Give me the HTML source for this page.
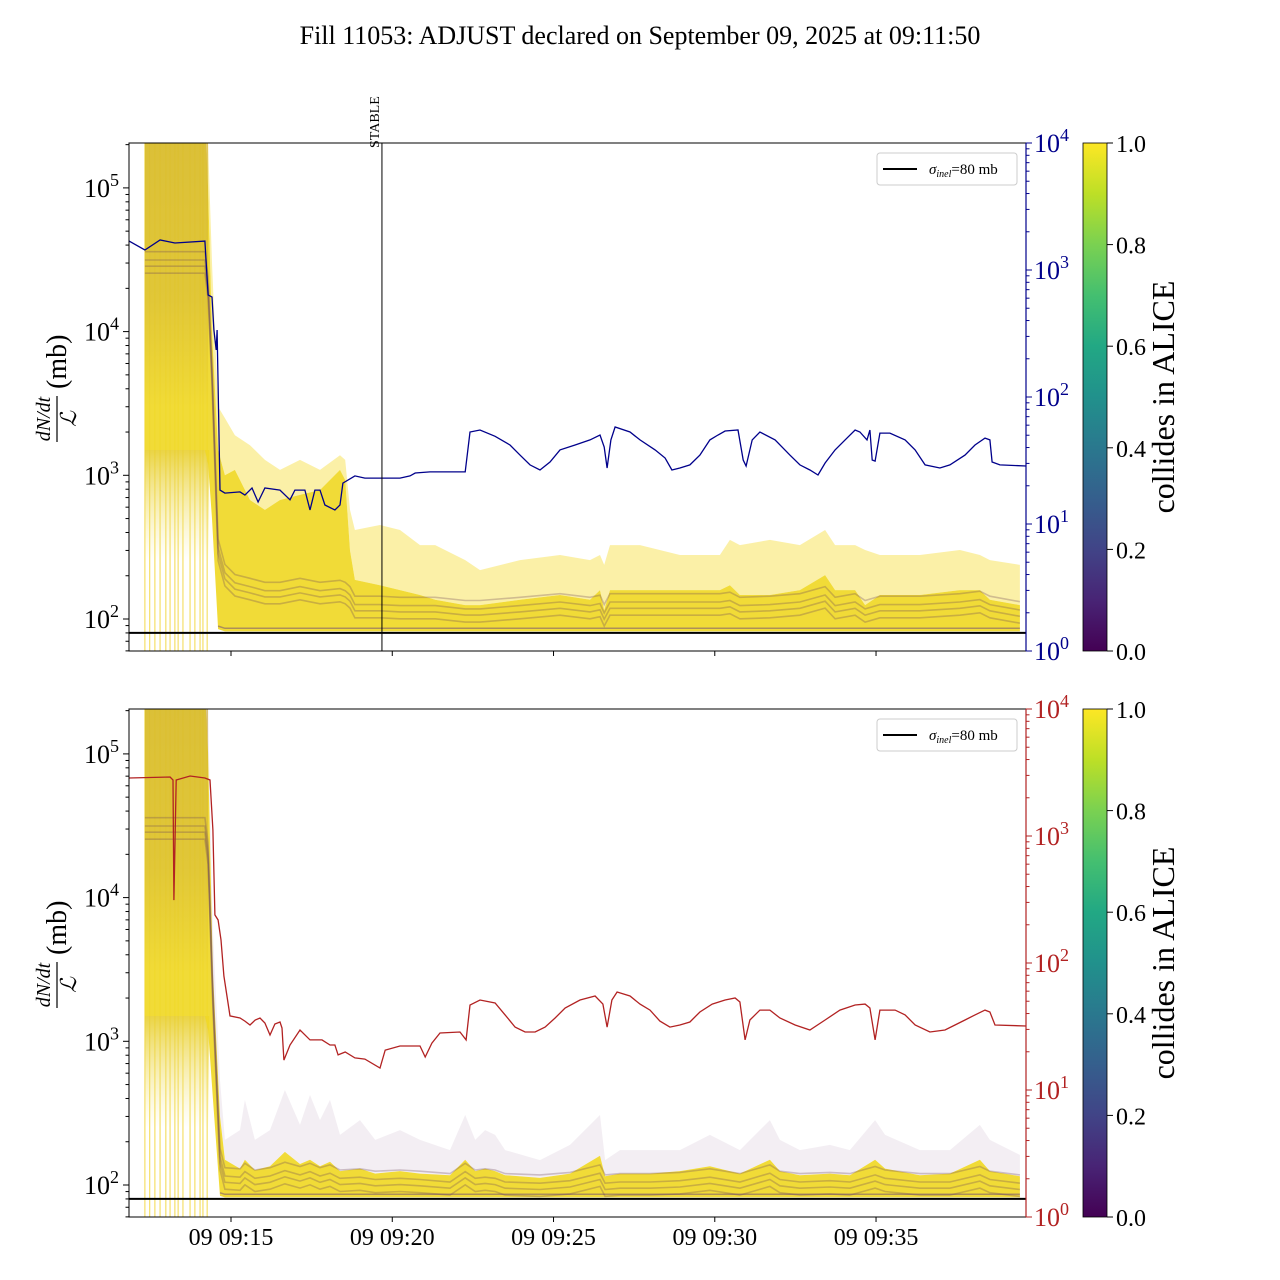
<!DOCTYPE html>
<html><head><meta charset="utf-8">
<style>
html,body{margin:0;padding:0;background:#fff;}
svg{display:block;font-family:"Liberation Serif","DejaVu Serif",serif;}
</style></head>
<body>
<svg id="chart" width="1280" height="1280" viewBox="0 0 1280 1280" xmlns="http://www.w3.org/2000/svg">
<defs>
<linearGradient id="viridis" x1="0" y1="1" x2="0" y2="0">
<stop offset="0" stop-color="#440154"/><stop offset="0.1" stop-color="#482475"/><stop offset="0.2" stop-color="#414487"/><stop offset="0.3" stop-color="#355f8d"/><stop offset="0.4" stop-color="#2a788e"/><stop offset="0.5" stop-color="#21918c"/><stop offset="0.6" stop-color="#22a884"/><stop offset="0.7" stop-color="#44bf70"/><stop offset="0.8" stop-color="#7ad151"/><stop offset="0.9" stop-color="#bddf26"/><stop offset="1" stop-color="#fde725"/>
</linearGradient>
<linearGradient id="burstFade" x1="0" y1="0" x2="0" y2="1">
<stop offset="0" stop-color="#e8cf30" stop-opacity="0.9"/><stop offset="1" stop-color="#f5e680" stop-opacity="0"/>
</linearGradient>
<linearGradient id="burstDark" x1="0" y1="0" x2="0" y2="1">
<stop offset="0" stop-color="#a8803a" stop-opacity="0.3"/><stop offset="0.6" stop-color="#a8803a" stop-opacity="0.22"/><stop offset="1" stop-color="#a8803a" stop-opacity="0"/>
</linearGradient>
<clipPath id="clipTop"><rect x="129" y="143" width="897" height="508"/></clipPath>
<clipPath id="clipBot"><rect x="129" y="709" width="897" height="508"/></clipPath>
</defs>
<text x="640" y="44" text-anchor="middle" font-size="26">Fill 11053: ADJUST declared on September 09, 2025 at 09:11:50</text>
</svg>
<script>
// ---- data ----
const xTickLabels = ["09 09:15","09 09:20","09 09:25","09 09:30","09 09:35"];
const xTickMinutes = [15,20,25,30,35];
const tStart = 11.837, tEnd = 39.65;
const stableMinute = 19.68;
const sigmaInel = 80;
const burstTimes = [12.33,12.48,12.64,12.80,12.98,13.11,13.26,13.36,13.51,13.73,13.88,14.04,14.13,14.26];
const burstFadeTop = 1500;
const burstFadeBottom = 250;

const topBandT = [12.33,14.19,14.29,14.41,14.60,14.81,15.12,15.59,16.05,16.52,17.14,17.76,18.38,18.54,18.69,18.84,19.62,20.24,20.86,21.33,22.26,22.72,23.96,25.20,26.13,26.44,26.57,26.75,27.68,28.92,30.16,30.47,30.78,31.71,32.64,33.42,33.73,34.35,34.66,35.12,36.36,37.60,38.22,38.53,39.46];
const topBandUp = [3e5,3e5,2e5,3e4,3000,2500,1900,1620,1280,1090,1280,1090,1380,1280,574,416,451,416,327,327,257,219,257,279,257,279,238,327,327,279,279,355,327,355,327,416,327,327,302,279,279,302,279,257,238];
const topBandHi = [3e5,3e5,1e5,1e4,1500,1000,1090,673,574,673,730,790,1090,927,300,187,172,159,147,136,125,125,136,147,136,159,115,159,159,159,159,172,147,147,159,202,159,159,125,147,147,159,159,136,125];
const topBandMed = [3e4,3e4,2e4,5000,300,200,170,160,150,150,160,150,155,150,140,120,120,118,118,118,112,112,118,125,118,122,105,125,125,125,125,128,118,120,125,140,118,125,112,120,120,125,130,120,110];
const topBandLo = [1500,1500,1200,500,85,82,82,82,82,82,82,82,82,82,82,82,82,82,82,82,82,82,82,82,82,82,82,82,82,82,82,82,82,82,82,82,82,82,82,82,82,82,82,82,82];

const botBandT = [12.33,14.19,14.29,14.44,14.66,14.81,15.28,15.43,15.74,16.21,16.67,17.14,17.45,17.76,18.07,18.38,19.00,19.47,20.24,20.86,21.79,22.26,22.57,22.88,23.19,23.50,24.58,25.51,26.44,26.60,27.06,27.99,28.92,29.85,30.78,31.71,32.02,32.64,33.57,34.19,34.97,35.28,36.36,37.29,38.22,38.53,39.46];
const botBandUp = [3e5,3e5,2e5,5960,537,206,241,391,206,241,458,262,423,283,391,223,283,206,241,206,175,307,206,241,223,175,149,190,307,149,175,175,175,223,175,283,206,175,190,175,283,223,175,175,262,206,162];
const botBandHi = [3e5,3e5,1e5,3000,300,150,130,150,127,135,170,140,150,135,145,125,130,120,125,120,117,150,125,130,125,117,112,120,160,115,120,120,125,135,120,150,125,117,120,117,150,130,117,120,150,125,115];
const botBandMed = [3e4,3e4,2e4,2000,150,110,108,118,106,110,120,112,118,110,115,106,108,104,106,104,100,118,106,108,106,100,98,102,115,98,100,100,102,108,100,115,104,100,102,100,112,106,100,100,112,104,98];
const botBandLo = [1500,1500,1200,400,84,82,82,82,82,82,82,82,82,82,82,82,82,82,82,82,82,82,82,82,82,82,82,82,82,82,82,82,82,82,82,82,82,82,82,82,82,82,82,82,82,82,82];

const blueT = [11.84,12.33,12.80,13.26,14.19,14.29,14.41,14.47,14.54,14.57,14.66,14.81,15.28,15.43,15.65,15.84,16.05,16.52,16.83,16.98,17.29,17.45,17.60,17.76,17.91,18.22,18.38,18.47,18.84,19.15,19.68,20.24,20.55,20.71,21.17,22.26,22.41,22.72,23.19,23.65,23.96,24.27,24.58,24.89,25.20,25.67,26.13,26.44,26.57,26.66,26.78,26.91,27.37,27.68,28.15,28.46,28.67,28.92,29.23,29.54,29.85,30.10,30.32,30.72,30.88,30.97,31.16,31.40,31.87,32.33,32.64,32.95,33.20,33.42,33.73,34.04,34.35,34.50,34.72,34.81,34.88,34.97,35.12,35.43,35.90,36.21,36.52,36.98,37.29,37.76,38.07,38.38,38.53,38.60,38.84,39.65];
const blueV = [1690,1437,1723,1632,1690,636,613,337,235,337,18.5,17.5,17.9,16.9,19.2,14.9,19.2,18.5,15.5,18.5,18.5,12.9,18.5,18.5,14.1,12.9,14.1,21.0,23.9,23.0,23.0,23.0,23.9,25.2,25.7,25.7,53,55,49,41.9,34.9,29.2,26.6,30.8,38.3,41.9,45.9,50.2,40.4,27.6,45.9,58,53,45.9,38.3,33.1,26.6,27.6,29.2,34.9,45.9,50.2,54,55,31.9,28.6,45.9,53,45.9,34.9,29.2,26.6,24.3,30.2,38.3,45.9,55,53,45.9,55,31.9,31.3,52,52,45.9,38.3,29.2,27.6,29.2,34.9,41.9,47.5,45.9,30.8,29.2,28.6];

const redT = [11.84,13.11,13.20,13.23,13.30,13.73,14.19,14.35,14.44,14.50,14.60,14.69,14.78,14.97,15.28,15.43,15.59,15.75,15.90,16.05,16.21,16.36,16.52,16.58,16.64,16.83,17.14,17.45,17.60,17.82,18.07,18.22,18.32,18.54,18.84,19.15,19.62,19.78,20.24,20.86,21.02,21.23,21.48,22.10,22.29,22.41,22.72,23.19,23.50,23.81,24.12,24.43,24.74,25.05,25.36,25.82,26.29,26.53,26.66,26.81,26.97,27.37,27.68,27.99,28.30,28.61,28.92,29.23,29.54,29.92,30.32,30.63,30.78,30.94,31.09,31.40,31.71,32.02,32.49,32.95,33.42,33.88,34.35,34.66,34.81,34.97,35.12,35.59,35.90,36.21,36.67,37.14,37.45,37.76,38.07,38.38,38.53,38.69,39.65];
const redV = [2864,2917,2760,313,2760,2967,2864,2760,1115,239,218,152,79,38.3,36.9,34.9,32.5,35.6,36.9,33.7,27.1,33.1,34.3,30.8,17.2,22.6,29.7,24.8,24.8,24.8,22.6,22.6,18.9,19.9,17.9,17.5,14.9,20.6,22.2,22.2,18.2,23.4,28.1,28.6,24.8,46.7,51.1,48.4,39.0,31.3,28.6,28.6,31.3,36.9,44.2,51.1,55.0,47.5,31.3,51.1,59.1,55.0,47.5,42.6,34.9,31.3,32.5,34.3,41.1,47.5,51.1,53.0,49.3,24.8,35.6,42.6,42.6,36.9,32.5,29.7,35.6,42.6,46.7,47.5,44.2,24.8,42.6,42.6,39.0,32.5,28.6,29.7,32.5,35.6,39.0,42.6,41.1,32.5,31.9];

// ---- scales ----
const NS = "http://www.w3.org/2000/svg";
const svg = document.getElementById("chart");
const X0 = 129, X1 = 1026;
function xScale(t){ return X0 + (t - tStart) * (X1 - X0) / (tEnd - tStart); }
function makeLeft(top){ const y100 = top + 476; return v => y100 - (Math.log10(v) - 2) * 143.7; }
function makeRight(top){ const bot = top + 508; return v => bot - Math.log10(v) * 127; }
function mk(tag, attrs, parent){ const e = document.createElementNS(NS, tag); for (const k in attrs) e.setAttribute(k, attrs[k]); (parent || svg).appendChild(e); return e; }
function pts(T, V, ys){ return T.map((t,i)=> xScale(t).toFixed(1)+","+ys(V[i]).toFixed(1)); }

function drawPanel(cfg){
  const top = cfg.top, bot = top + 508;
  const yl = makeLeft(top), yr = makeRight(top);
  const g = mk("g", {"clip-path": "url(#" + cfg.clip + ")"});
  
  
  burstTimes.forEach(t => {
    const l = mk("line", {x1: xScale(t), x2: xScale(t), y1: top, y2: bot, stroke: "#f0d020", "stroke-width": 1, opacity: 0.8}, g);
    
    
  });
  const bx0 = xScale(burstTimes[0]), bx1 = xScale(burstTimes[burstTimes.length-1]) + 2;
  const fade = mk("rect", {x: bx0, y: yl(burstFadeTop), width: bx1 - bx0, height: yl(burstFadeBottom) - yl(burstFadeTop), fill: "url(#burstFade)"}, g);
  
  
  const up = pts(cfg.bT, cfg.bUp, yl), hi = pts(cfg.bT, cfg.bHi, yl), lo = pts(cfg.bT, cfg.bLo, yl);
  const light = mk("polygon", {points: up.concat(hi.slice().reverse()).join(" "), fill: cfg.lightFill}, g);
  
  
  const dense = mk("polygon", {points: hi.concat(lo.slice().reverse()).join(" "), fill: "#f0d826", opacity: 0.92}, g);
  
  
  const bTop = yl(cfg.bUp[0]), bBot = yl(cfg.bMed[0]*0.1);
  const bd = mk("rect", {x: xScale(cfg.bT[0]), y: top, width: xScale(cfg.bT[2]) - xScale(cfg.bT[0]), height: bBot - top, fill: "url(#burstDark)"}, g);
  
  
  [0.85, 0.95, 1.05, 1.2].forEach(f => {
    const pl = mk("polyline", {points: cfg.bT.map((t,i)=> xScale(t).toFixed(1)+","+yl(cfg.bMed[i]*f).toFixed(1)).join(" "), fill: "none", stroke: "rgba(110,70,90,0.3)", "stroke-width": 1.6}, g);
    
    
  });
  const floor = mk("polyline", {points: cfg.bT.slice(4).map((t,i)=> xScale(t).toFixed(1)+","+yl(cfg.bLo[i+4]*1.05).toFixed(1)).join(" "), fill: "none", stroke: "rgba(90,50,130,0.45)", "stroke-width": 1.5}, g);
  
  
  const sl = mk("line", {x1: X0, x2: X1, y1: yl(sigmaInel), y2: yl(sigmaInel), stroke: "#000", "stroke-width": 2}, g);
  
  
  const ll = mk("polyline", {points: pts(cfg.lT, cfg.lV, yr).join(" "), fill: "none", stroke: cfg.lineColor, "stroke-width": 1.3}, g);
  
  
  if (cfg.stable){
    const st = mk("line", {x1: xScale(stableMinute), x2: xScale(stableMinute), y1: top, y2: bot, stroke: "#000", "stroke-width": 1});
    
    
    const sx = xScale(stableMinute) - 7;
    const stt = mk("text", {x: 0, y: 0, "font-size": 14, transform: "translate(" + (sx+4) + "," + (top+5) + ") rotate(-90)"});
    stt.textContent = "STABLE";
    
    
  }
  const fr = mk("rect", {x: X0, y: top, width: X1 - X0, height: 508, fill: "none", stroke: "#000", "stroke-width": 1});
  
  
  xTickMinutes.forEach((m, i) => {
    const tk = mk("line", {x1: xScale(m), x2: xScale(m), y1: bot, y2: bot + 5, stroke: "#000"});
    
    
    if (cfg.xlabels){
      const tl = mk("text", {x: xScale(m), y: bot + 28, "text-anchor": "middle", "font-size": 24});
      tl.textContent = xTickLabels[i];
      
      
    }
  });
  for (let d = 1; d <= 5; d++){
    for (let k = 1; k <= 9; k++){
      const v = k * Math.pow(10, d), y = yl(v);
      if (y < top - 0.5 || y > bot + 0.5) continue;
      const tk = mk("line", {x1: X0, x2: X0 - (k === 1 ? 6 : 3.5), y1: y, y2: y, stroke: "#000"});
      
      
      if (k === 1){
        const t = mk("text", {x: X0 - 10, y: y + 9, "text-anchor": "end", "font-size": 26});
        t.innerHTML = '10<tspan dy="-11" font-size="18">' + d + '</tspan>';
        
        
      }
    }
  }
  for (let d = 0; d <= 4; d++){
    for (let k = 1; k <= 9; k++){
      const v = k * Math.pow(10, d), y = yr(v);
      if (y < top - 0.5 || y > bot + 0.5) continue;
      const tk = mk("line", {x1: X1, x2: X1 + (k === 1 ? 6 : 3.5), y1: y, y2: y, stroke: cfg.lineColor});
      
      
      if (k === 1){
        const t = mk("text", {x: X1 + 8, y: y + 9, "font-size": 26, fill: cfg.lineColor});
        t.innerHTML = '10<tspan dy="-11" font-size="18">' + d + '</tspan>';
        
        
      }
    }
  }
  const ra = mk("line", {x1: X1, x2: X1, y1: top, y2: bot, stroke: cfg.lineColor, "stroke-width": 1.2});
  
  
  const yg = mk("g", {transform: "translate(58," + (top + 254) + ") rotate(-90)"});
  
  
  const num = mk("text", {x: -22, y: -8, "text-anchor": "middle", "font-size": 20, "font-style": "italic"}, yg);
  num.textContent = "dN/dt";
  const bar = mk("line", {x1: -45, x2: 1, y1: -1, y2: -1, stroke: "#000", "stroke-width": 1.2}, yg);
  
  
  const den = mk("text", {x: -22, y: 18, "text-anchor": "middle", "font-size": 22, "font-style": "italic"}, yg);
  den.textContent = "ℒ";
  const mb = mk("text", {x: 8, y: 8, "font-size": 28}, yg);
  mb.textContent = "(mb)";
  const lg = mk("g", {});
  
  
  mk("rect", {x: 877, y: top + 10, width: 140, height: 32, rx: 3, fill: "#fff", stroke: "#ccc"}, lg);
  const le = mk("line", {x1: 883, x2: 917, y1: top + 26, y2: top + 26, stroke: "#000", "stroke-width": 2}, lg);
  
  
  const lt = mk("text", {x: 929, y: top + 31, "font-size": 15}, lg);
  lt.innerHTML = '<tspan font-style="italic">σ</tspan><tspan font-size="10" dy="3" font-style="italic">inel</tspan><tspan dy="-3">=80 mb</tspan>';
  
  
  const cb = mk("rect", {x: 1083, y: top, width: 24, height: 508, fill: "url(#viridis)", stroke: "#000", "stroke-width": 0.8});
  
  
  ["0.0","0.2","0.4","0.6","0.8","1.0"].forEach((s, i) => {
    const y = bot - i * 508 / 5;
    const tk = mk("line", {x1: 1107, x2: 1113, y1: y, y2: y, stroke: "#000"});
    
    
    const t = mk("text", {x: 1116, y: y + 9, "font-size": 24});
    t.textContent = s;
    
    
  });
  const ct = mk("text", {x: 0, y: 0, "text-anchor": "middle", "font-size": 32, transform: "translate(1174," + (top + 254) + ") rotate(-90)"});
  ct.textContent = "collides in ALICE";
  
  
}

drawPanel({name: "top-panel", top: 143, clip: "clipTop", bT: topBandT, bUp: topBandUp, bHi: topBandHi, bMed: topBandMed, bLo: topBandLo, lT: blueT, lV: blueV, lineColor: "#00008b", lightFill: "rgba(247,225,80,0.5)", stable: true, xlabels: false});
drawPanel({name: "bottom-panel", top: 709, clip: "clipBot", bT: botBandT, bUp: botBandUp, bHi: botBandHi, bMed: botBandMed, bLo: botBandLo, lT: redT, lV: redV, lineColor: "#b22222", lightFill: "rgba(190,160,190,0.18)", stable: false, xlabels: true});
</script>
</body></html>
